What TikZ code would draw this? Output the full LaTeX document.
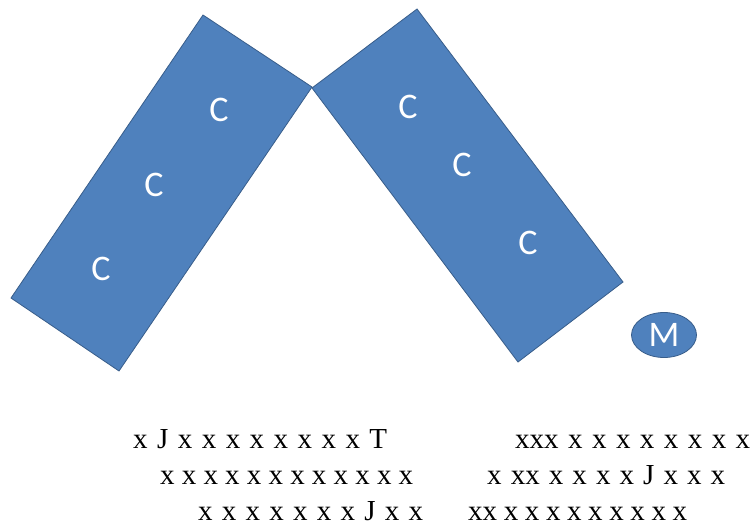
\documentclass[tikz,border=0pt]{standalone}
\usepackage{fontspec}
\usepackage{xcolor}
\setmainfont{Liberation Serif}
\newfontfamily\unitfont{Carlito}
\usetikzlibrary{shapes.geometric}

\definecolor{blockblue}{HTML}{4F81BD}
\definecolor{blockedge}{HTML}{385D8A}

% a row of letters spread over a fixed width
\newcommand{\spreadrow}[2]{\makebox[#1pt][s]{#2}}

\begin{document}
\begin{tikzpicture}[x=1pt, y=-1pt,
  block/.style={fill=blockblue, draw=blockedge, line width=0.8pt, line join=miter},
  unit/.style={text=white, inner sep=0pt, font=\unitfont\fontsize{36}{36}\selectfont},
  row/.style={anchor=base west, inner sep=0pt, font=\fontsize{29}{29}\selectfont}]
  \useasboundingbox (0,0) rectangle (755,525);

  % Draw the two tilted blocks
  \draw[block] (203,15) -- (312,87) -- (119,371) -- (11,298) -- cycle;
  \draw[block] (312,88) -- (417,9) -- (623,282) -- (518,362) -- cycle;

  % Letters on the left block
  \node[unit] (cl1) at (219,110) {C};
  \node[unit] (cl2) at (154,185) {C};
  \node[unit] (cl3) at (101,269) {C};

  % Letters on the right block
  \node[unit] (cr1) at (408,107) {C};
  \node[unit] (cr2) at (462,165) {C};
  \node[unit] (cr3) at (528,243) {C};

  % The small ellipse
  \node[block, ellipse, unit, minimum width=65pt, minimum height=45pt] (m) at (664,335) {M};

  % Rows of letters below
  \node[row] (r1l) at (133,448) {\spreadrow{254}{x J x x x x x x x x T}};
  \node[row] (r1r) at (515,448) {\spreadrow{235}{xxx x x x x x x x x}};
  \node[row] (r2l) at (160,484) {\spreadrow{253}{x x x x x x x x x x x x}};
  \node[row] (r2r) at (487,484) {\spreadrow{238}{x xx x x x x J x x x}};
  \node[row] (r3l) at (198,520) {\spreadrow{225}{x x x x x x x J x x}};
  \node[row] (r3r) at (468,520) {\spreadrow{219}{xx x x x x x x x x x}};
\end{tikzpicture}
\end{document}
